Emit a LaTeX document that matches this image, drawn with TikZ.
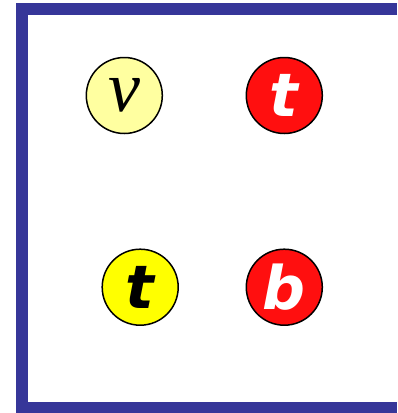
\documentclass[tikz,border=0pt]{standalone}
\usepackage{fontspec}
\newfontfamily\labfont{DejaVu Sans}
\newfontfamily\greekfont{Liberation Serif}
\definecolor{frameblue}{HTML}{363699}
\definecolor{paleyellow}{HTML}{FFFFA0}
\definecolor{brightred}{HTML}{FF0F0F}
\definecolor{brightyellow}{HTML}{FFFF00}
\tikzset{
  ball/.style={circle, draw=black, line width=1.5pt, minimum size=76pt, inner sep=0pt},
  heavy/.style={font=\labfont\bfseries\itshape\fontsize{60}{60}\selectfont},
}
\begin{document}
\begin{tikzpicture}[x=1pt,y=-1pt]
\useasboundingbox (0,0) rectangle (397,413);
\fill[white] (0,0) rectangle (397,413);
\coordinate (tr) at (397,9);
\coordinate (tl) at (22,9);
\coordinate (bl) at (22,408);
\coordinate (br) at (397,408);
\draw[frameblue, line width=12pt, line join=miter] (tr) -- (tl) -- (bl) -- (br);
\node[ball, fill=paleyellow, font=\greekfont\itshape\fontsize{72}{72}\selectfont] (nu) at (124.3,95.5) {\raisebox{-5pt}{ν}};
\node[ball, fill=brightred, text=white, heavy] (ttop) at (284.3,95.5) {t};
\node[ball, fill=brightyellow, text=black, heavy] (tbot) at (140.2,287.2) {t};
\node[ball, fill=brightred, text=white, heavy] (b) at (284.3,287.2) {b};
\end{tikzpicture}
\end{document}
